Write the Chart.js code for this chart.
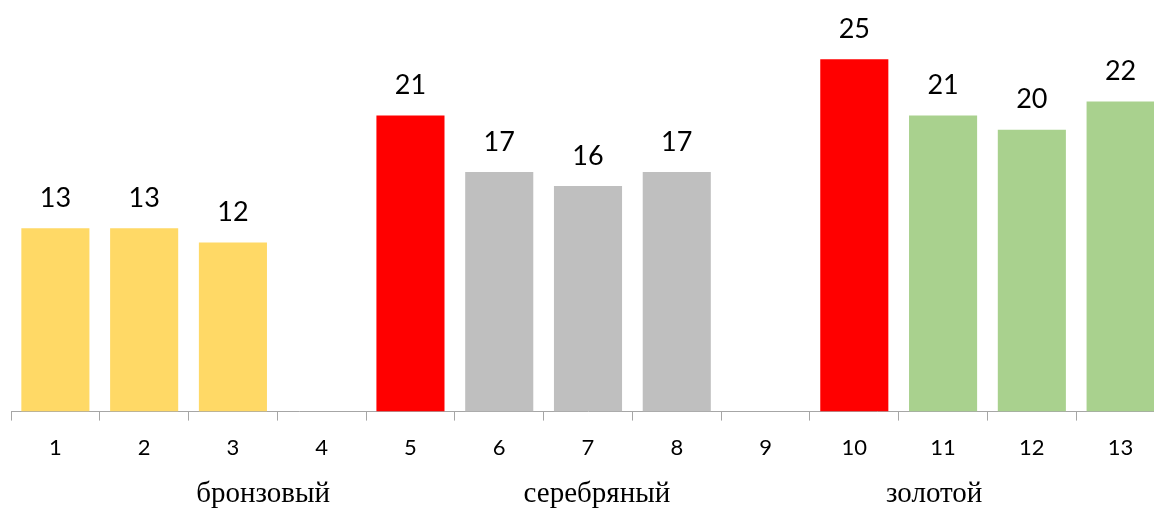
<!DOCTYPE html>
<html>
<head>
<meta charset="utf-8">
<script src="https://cdn.jsdelivr.net/npm/chart.js@4.4.1/dist/chart.umd.min.js"></script>
<style>
  html, body { margin: 0; padding: 0; background: #fff; overflow: hidden; }
  #wrap { position: relative; width: 1165px; height: 510px; }
</style>
</head>
<body>
<div id="wrap"><canvas id="chart"></canvas></div>
<script>
var categories = ['1', '2', '3', '4', '5', '6', '7', '8', '9', '10', '11', '12', '13'];
var values = [13, 13, 12, 0, 21, 17, 16, 17, 0, 25, 21, 20, 22];
var barColors = ['#FFD966', '#FFD966', '#FFD966', '#FFFFFF', '#FF0000', '#BFBFBF', '#BFBFBF', '#BFBFBF',
                 '#FFFFFF', '#FF0000', '#A9D18E', '#A9D18E', '#A9D18E'];
var groupNames = ['бронзовый', 'серебряный', 'золотой'];
var groupAt = [2.34, 6.1, 9.9]; // category index where each group caption sits

// value labels above bars
var valueLabels = {
    id: 'valueLabels',
    afterDatasetsDraw: function (chart) {
        var ctx = chart.ctx;
        var meta = chart.getDatasetMeta(0);
        ctx.save();
        ctx.font = '27px Lato';
        ctx.fillStyle = '#000';
        ctx.textAlign = 'center';
        ctx.textBaseline = 'middle';
        meta.data.forEach(function (bar, i) {
            if (!values[i]) return;
            ctx.fillText(values[i], bar.x, bar.y - 30);
        });
        ctx.restore();
    }
};

// group captions under the axis
var groupLabels = {
    id: 'groupLabels',
    afterDraw: function (chart) {
        var ctx = chart.ctx;
        var x = chart.scales.x;
        ctx.save();
        ctx.font = '29px "Liberation Serif"';
        ctx.fillStyle = '#000';
        ctx.textAlign = 'center';
        ctx.textBaseline = 'middle';
        groupNames.forEach(function (name, i) {
            ctx.fillText(name, x.getPixelForValue(groupAt[i]), 494);
        });
        ctx.restore();
    }
};

new Chart(document.getElementById('chart'), {
    type: 'bar',
    data: {
        labels: categories,
        datasets: [{
            data: values,
            backgroundColor: barColors,
            barPercentage: 0.767,
            categoryPercentage: 1
        }]
    },
    options: {
        responsive: true,
        maintainAspectRatio: false,
        animation: false,
        layout: { padding: { left: 11, right: 0, top: 0, bottom: 35 } },
        plugins: {
            legend: { display: false },
            tooltip: { enabled: false }
        },
        scales: {
            x: {
                offset: true,
                grid: {
                    offset: true,
                    drawOnChartArea: false,
                    drawTicks: true,
                    tickLength: 9,
                    color: '#A6A6A6'
                },
                border: { display: true, color: '#A6A6A6', width: 1 },
                ticks: {
                    font: { family: 'Lato', size: 22 },
                    color: '#000',
                    padding: 14,
                    maxRotation: 0
                }
            },
            y: {
                display: false,
                min: 0,
                max: 29.2
            }
        }
    },
    plugins: [valueLabels, groupLabels]
});
</script>
</body>
</html>
